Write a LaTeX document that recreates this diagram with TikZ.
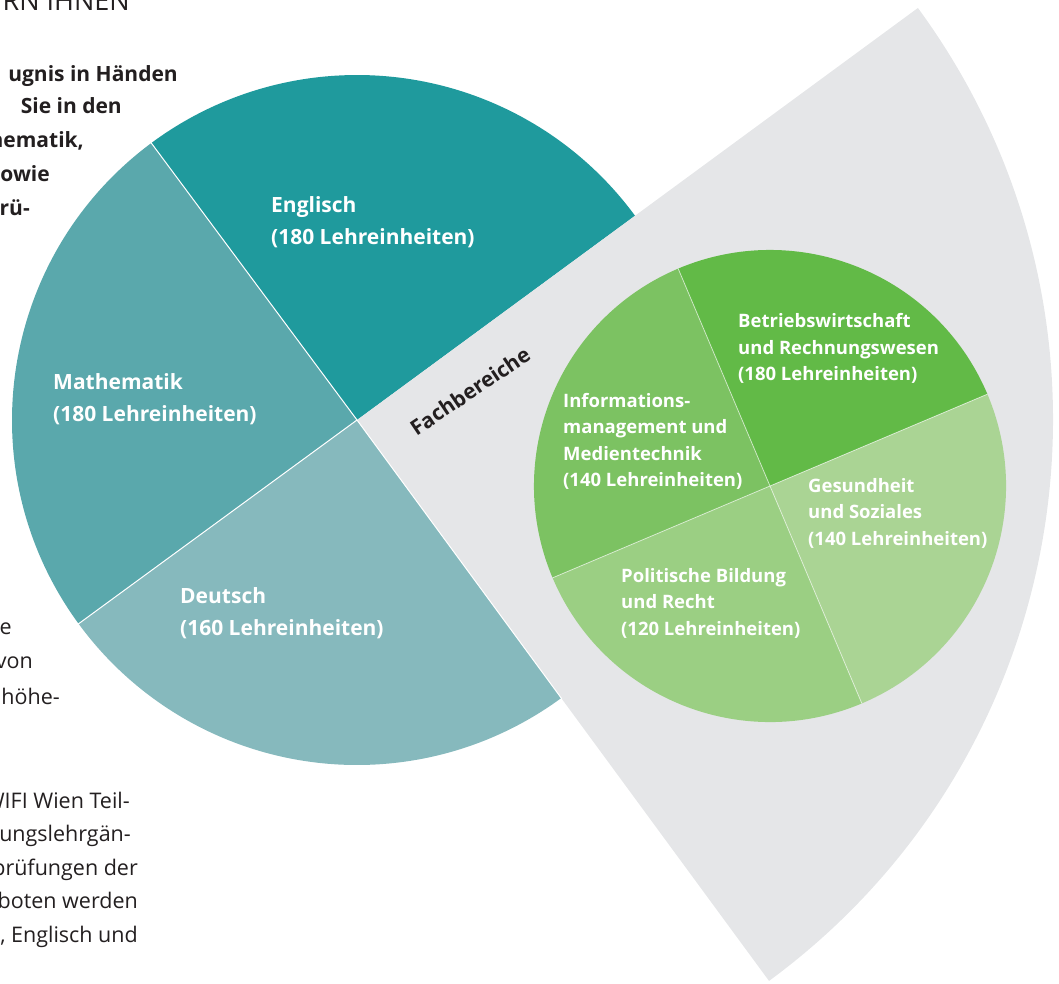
\documentclass[tikz,border=0pt]{standalone}
\usepackage{fontspec}
\usetikzlibrary{calc}
\setmainfont{Open Sans}
\definecolor{engl}{HTML}{1F9A9D}
\definecolor{mathe}{HTML}{5AA8AC}
\definecolor{deut}{HTML}{86B9BD}
\definecolor{greyb}{HTML}{E5E6E8}
\definecolor{gA}{HTML}{62BA47}
\definecolor{gB}{HTML}{7CC262}
\definecolor{gC}{HTML}{9BCF83}
\definecolor{gD}{HTML}{AAD494}
\definecolor{ink}{HTML}{231F20}
\tikzset{
  biglabel/.style={anchor=west, inner sep=0pt, align=left, text=white, font=\fontsize{21}{32}\selectfont\bfseries},
  smalllabel/.style={anchor=west, inner sep=0pt, align=left, text=white, font=\fontsize{18.5}{26.5}\selectfont\bfseries},
  boldside/.style={anchor=base east, inner sep=0pt, text=ink, font=\fontsize{21}{24}\selectfont\bfseries},
  plainside/.style={anchor=base east, inner sep=0pt, text=ink, font=\fontsize{21.5}{24}\selectfont},
  sep/.style={white, line width=1pt},
  gsep/.style={white, opacity=0.6, line width=0.8pt}
}
\begin{document}
\begin{tikzpicture}[x=1pt,y=-1pt]
\useasboundingbox (0,0) rectangle (1059,983);
\clip (0,0) rectangle (1059,983);
\coordinate (C) at (357,420);
\coordinate (G) at (770,486);
% big pie
\fill[engl] (C) -- ++(-36.3:345) arc[start angle=-36.3, end angle=-126.6, radius=345] -- cycle;
\fill[mathe] (C) -- ++(-126.6:345) arc[start angle=-126.6, end angle=-216.2, radius=345] -- cycle;
\fill[deut] (C) -- ++(-216.2:345) arc[start angle=-216.2, end angle=-306.3, radius=345] -- cycle;
\coordinate (EM) at ($(C)+(-126.6:346)$);
\coordinate (MD) at ($(C)+(-216.2:346)$);
% grey sector
\fill[greyb] (C) -- ++(53.7:696) arc[start angle=53.7, end angle=-36.3, radius=696] -- cycle;
\coordinate (GD) at ($(C)+(53.7:346)$);
\draw[sep] (C) -- (EM);
\draw[sep] (C) -- (MD);
\draw[sep] (C) -- (GD);
% green pie
\fill[gA] (G) -- ++(-22.9:236) arc[start angle=-22.9, end angle=-112.9, radius=236] -- cycle;
\fill[gB] (G) -- ++(-112.9:236) arc[start angle=-112.9, end angle=-202.9, radius=236] -- cycle;
\fill[gC] (G) -- ++(-202.9:236) arc[start angle=-202.9, end angle=-292.9, radius=236] -- cycle;
\fill[gD] (G) -- ++(-292.9:236) arc[start angle=-292.9, end angle=-382.9, radius=236] -- cycle;
\coordinate (g1) at ($(G)+(-22.9:236)$);
\coordinate (g2) at ($(G)+(-112.9:236)$);
\coordinate (g3) at ($(G)+(-202.9:236)$);
\coordinate (g4) at ($(G)+(-292.9:236)$);
\draw[gsep] (g1) -- (g3);
\draw[gsep] (g2) -- (g4);
% labels big pie
\node[biglabel] (lE) at (271,222) {Englisch\\(180 Lehreinheiten)};
\node[biglabel] (lM) at (53,399) {Mathematik\\(180 Lehreinheiten)};
\node[biglabel] (lD) at (180,613) {Deutsch\\(160 Lehreinheiten)};
\node[text=ink, font=\fontsize{21}{24}\selectfont\bfseries, rotate=34, inner sep=0pt] (lF) at (470,391) {Fachbereiche};
% labels green pie
\node[smalllabel] (lB) at (738,348.5) {Betriebswirtschaft\\und Rechnungswesen\\(180 Lehreinheiten)};
\node[smalllabel] (lI) at (563,441.5) {Informations-\\management und\\Medientechnik\\(140 Lehreinheiten)};
\node[smalllabel] (lG) at (808,513) {Gesundheit\\und Soziales\\(140 Lehreinheiten)};
\node[smalllabel] (lP) at (621,603) {Politische Bildung\\und Recht\\(120 Lehreinheiten)};
% side text fragments
\node[anchor=base east, inner sep=0pt, text=ink, font=\fontsize{27}{30}\selectfont] (t0) at (130,10) {RN IHNEN};
\node[boldside] (b1) at (178,81) {ugnis in Händen};
\node[boldside] (b2) at (122,113) {Sie in den};
\node[boldside] (b3) at (84,147) {hematik,};
\node[boldside] (b4) at (50,181) {owie};
\node[boldside] (b5) at (30,215) {rü-};
\node[plainside] (p1) at (12,634) {e};
\node[plainside] (p2) at (33,668) {von};
\node[plainside] (p3) at (60,704) {höhe-};
\node[plainside] (p4) at (130,808) {WIFI Wien Teil-};
\node[plainside] (p5) at (131,841) {tungslehrgän-};
\node[plainside] (p6) at (138,875) {prüfungen der};
\node[plainside] (p7) at (138,908) {boten werden};
\node[plainside] (p8) at (138,942) {, Englisch und};
\end{tikzpicture}
\end{document}
